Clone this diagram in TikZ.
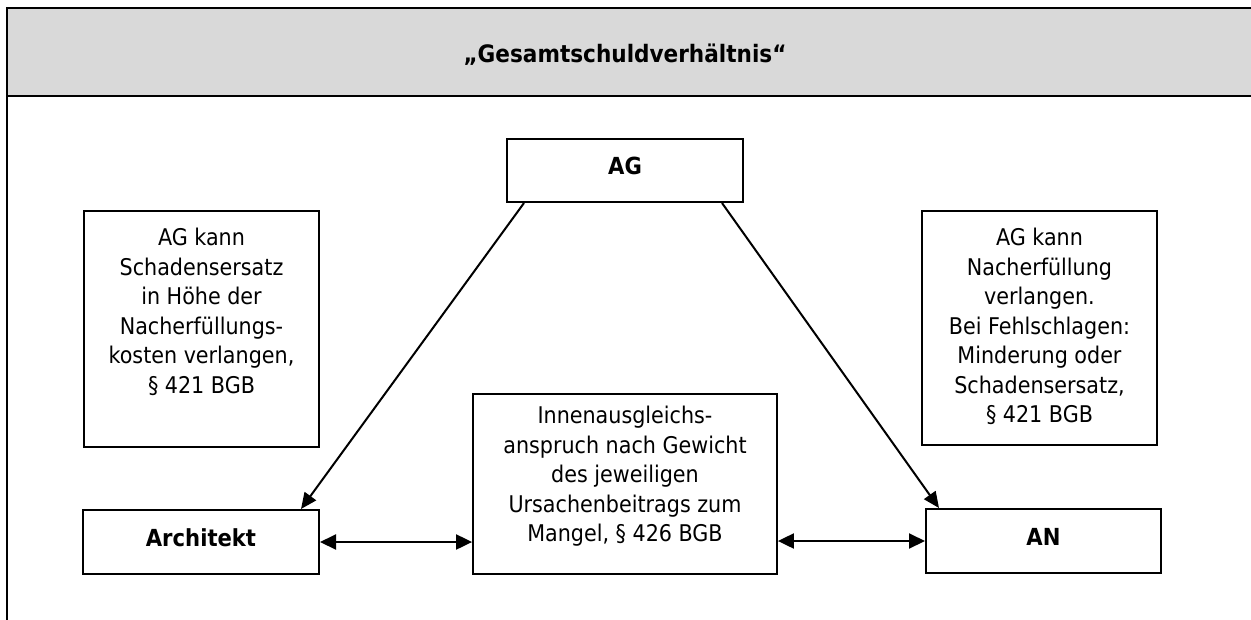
\documentclass[tikz,border=0pt]{standalone}
\usepackage{fontspec}
\setmainfont{DejaVu Sans Condensed}
\usetikzlibrary{arrows.meta}
\definecolor{hdrgray}{HTML}{D9D9D9}
\tikzset{
  box/.style={draw=black, line width=2pt, fill=white, inner sep=0pt, text depth=9pt,
    font=\fontsize{23.5pt}{28pt}\selectfont\bfseries},
  txtbox/.style={draw=black, line width=1.8pt, fill=white, inner sep=0pt},
  txt/.style={inner sep=0pt, align=center, font=\fontsize{23pt}{29.5pt}\selectfont},
  arr/.style={line width=2pt, -{Triangle[length=16pt,width=14pt]}},
  darr/.style={line width=2pt, {Triangle[length=16pt,width=15pt]}-{Triangle[length=16pt,width=15pt]}},
  frame/.style={line width=2.3pt, line cap=rect}
}
\begin{document}
\begin{tikzpicture}[x=1pt,y=-1pt]
\useasboundingbox (0,0) rectangle (1251,619);
\fill[white] (0,0) rectangle (1251,619);
% header band
\fill[hdrgray] (7,7.7) rectangle (1251,96);
\draw[frame] (1251,7.7) -- (7,7.7) -- (7,619);
\draw[frame] (7,96) -- (1251,96);
\node[inner sep=0pt, anchor=base, font=\fontsize{24pt}{28pt}\selectfont\bfseries] (title) at (625,62) {„Gesamtschuldverhältnis“};

% boxes
\node[box, minimum width=236pt, minimum height=63pt] (ag) at (625,170.5) {AG};
\node[box, minimum width=236pt, minimum height=64pt] (arch) at (201,542) {Architekt};
\node[box, minimum width=235pt, minimum height=64pt] (an) at (1043.5,541) {AN};

\node[txtbox, minimum width=235pt, minimum height=236pt] (lbox) at (201.5,329) {};
\node[txtbox, minimum width=235pt, minimum height=234pt] (rbox) at (1039.5,328) {};
\node[txtbox, minimum width=304pt, minimum height=180pt] (mbox) at (625,484) {};

\node[txt, anchor=north] (ltext) at (201.5,228) {AG kann\\Schadensersatz\\in Höhe der\\Nacherfüllungs-\\kosten verlangen,\\§ 421 BGB};
\node[txt, anchor=north] (rtext) at (1039.5,228) {AG kann\\Nacherfüllung\\verlangen.\\Bei Fehlschlagen:\\Minderung oder\\Schadensersatz,\\§ 421 BGB};
\node[txt, anchor=north] (mtext) at (625,406) {Innenausgleichs-\\anspruch nach Gewicht\\des jeweiligen\\Ursachenbeitrags zum\\Mangel, § 426 BGB};

% connectors
\draw[arr] ([xshift=18pt]ag.south west) -- ([xshift=-19pt]arch.north east);
\draw[arr] ([xshift=-22pt]ag.south east) -- ([xshift=14pt]an.north west);
\draw[darr] (arch.east) -- (arch.east -| mbox.west);
\draw[darr] (mbox.east |- an.west) -- (an.west);
\end{tikzpicture}
\end{document}
